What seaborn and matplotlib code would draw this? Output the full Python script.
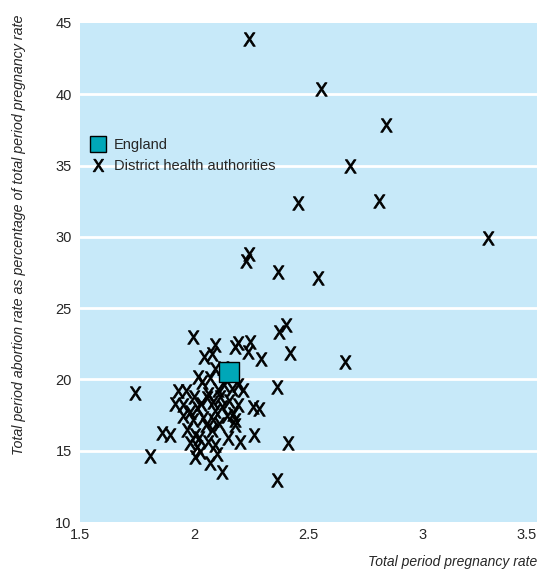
import matplotlib
matplotlib.use('Agg')
import matplotlib.pyplot as plt
import seaborn as sns
import pandas as pd
from matplotlib.lines import Line2D

# District health authorities: total period pregnancy rate vs abortion share (%)
dha_pregnancy = [
    2.24, 2.555, 2.84, 2.68, 2.455, 2.81, 3.285, 2.24, 2.225, 2.365, 2.54,
    2.40, 2.37, 2.42, 2.66, 2.36, 2.41, 2.36, 1.74, 1.806, 1.857, 1.896,
    1.993, 2.091, 2.19, 2.244, 2.043, 2.079, 2.18, 2.237, 2.291, 2.091,
    2.127, 2.018, 2.032, 1.930, 1.964, 2.105, 2.164, 2.193, 2.215, 1.916,
    1.952, 2.010, 2.054, 2.083, 2.113, 2.142, 2.193, 2.258, 2.285, 1.952,
    1.996, 2.040, 2.083, 2.171, 2.178, 1.967, 2.003, 2.076, 2.149, 2.178,
    2.20, 2.261, 1.981, 2.010, 2.061, 2.003, 2.025, 2.098, 2.069, 2.12,
    2.03, 2.06, 2.09, 2.12, 2.00, 2.05, 2.11, 2.02, 2.09, 2.13, 2.15,
    1.98, 2.07,
]
dha_abortion = [
    43.9, 40.35, 37.85, 35.0, 32.35, 32.5, 29.9, 28.8, 28.3, 27.55, 27.1,
    23.8, 23.3, 21.85, 21.2, 19.5, 15.55, 12.95, 19.07, 14.63, 16.27, 16.11,
    22.96, 22.4, 22.55, 22.65, 21.56, 21.8, 22.3, 21.95, 21.4, 20.72,
    20.79, 20.2, 19.85, 19.19, 19.19, 19.26, 19.31, 19.6, 19.26, 18.28,
    18.21, 17.98, 18.68, 18.44, 18.79, 17.40, 18.2, 18.05, 17.9, 17.40,
    17.16, 17.28, 17.16, 17.6, 17.16, 16.46, 16.11, 16.46, 15.88, 16.8,
    15.64, 16.1, 15.52, 15.29, 15.64, 14.59, 14.94, 14.78, 14.12, 13.5,
    18.3, 19.0, 17.8, 18.1, 18.8, 16.8, 16.9, 15.9, 15.4, 19.6, 18.5,
    17.7, 20.1,
]
england_pregnancy = [2.153]
england_abortion = [20.5]

y_ticks = [10, 15, 20, 25, 30, 35, 40, 45]
x_ticks = [1.5, 2, 2.5, 3, 3.5]
x_tick_labels = ['1.5', '2', '2.5', '3', '3.5']

sns.set_style('white')
plt.rcParams['font.family'] = ['Liberation Sans Narrow', 'Liberation Sans', 'DejaVu Sans']
plt.rcParams['font.size'] = 10

dha = pd.DataFrame({'pregnancy': dha_pregnancy, 'abortion': dha_abortion})
eng = pd.DataFrame({'pregnancy': england_pregnancy, 'abortion': england_abortion})

fig = plt.figure(figsize=(5.4, 5.78), dpi=100)
ax = fig.add_axes([80 / 540, 1 - 522 / 578, 457 / 540, 499 / 578])
ax.set_facecolor('#c7e9f9')

x_marker = r'$\mathrm{X}$'
sns.scatterplot(x='pregnancy', y='abortion', data=dha, ax=ax, marker=x_marker,
                s=95, color='black', edgecolor='black', linewidth=0.6, zorder=3)
sns.scatterplot(x='pregnancy', y='abortion', data=eng, ax=ax, marker='s',
                s=190, color='#00a7b8', edgecolor='black', linewidth=1, zorder=4)

ax.set_xlim(1.5, 3.5)
ax.set_ylim(10, 45)
ax.set_xticks(x_ticks)
ax.set_xticklabels(x_tick_labels)
ax.get_xticklabels()[-1].set_horizontalalignment('right')
ax.set_yticks(y_ticks)
ax.grid(False)
for y in y_ticks[1:-1]:
    ax.axhline(y, color='white', linewidth=2, zorder=1)
for s in ax.spines.values():
    s.set_visible(False)
ax.tick_params(axis='x', direction='in', length=12, width=2, color='white',
               pad=4, labelsize=10.5)
ax.tick_params(axis='y', length=0, pad=6, labelsize=10.5)
ax.set_xlabel('')
ax.set_ylabel('')

fig.text(0.036, 0.975, 'Total period abortion rate as percentage of total period pregnancy rate',
         rotation=90, va='top', ha='center', style='italic', fontsize=10.3)
fig.text(0.995, 0.015, 'Total period pregnancy rate', ha='right', va='bottom',
         style='italic', fontsize=10)

handles = [
    Line2D([], [], marker='s', linestyle='none', markersize=11,
           markerfacecolor='#00a7b8', markeredgecolor='black'),
    Line2D([], [], marker=x_marker, linestyle='none', markersize=9, color='black',
           markeredgewidth=0.6),
]
ax.legend(handles, ['England', 'District health authorities'], loc='upper left',
          bbox_to_anchor=(-0.015, 0.79), frameon=False, handletextpad=0.1,
          labelspacing=0.5, fontsize=10.5, borderaxespad=0.3)

fig.savefig('out.png', dpi=100)
